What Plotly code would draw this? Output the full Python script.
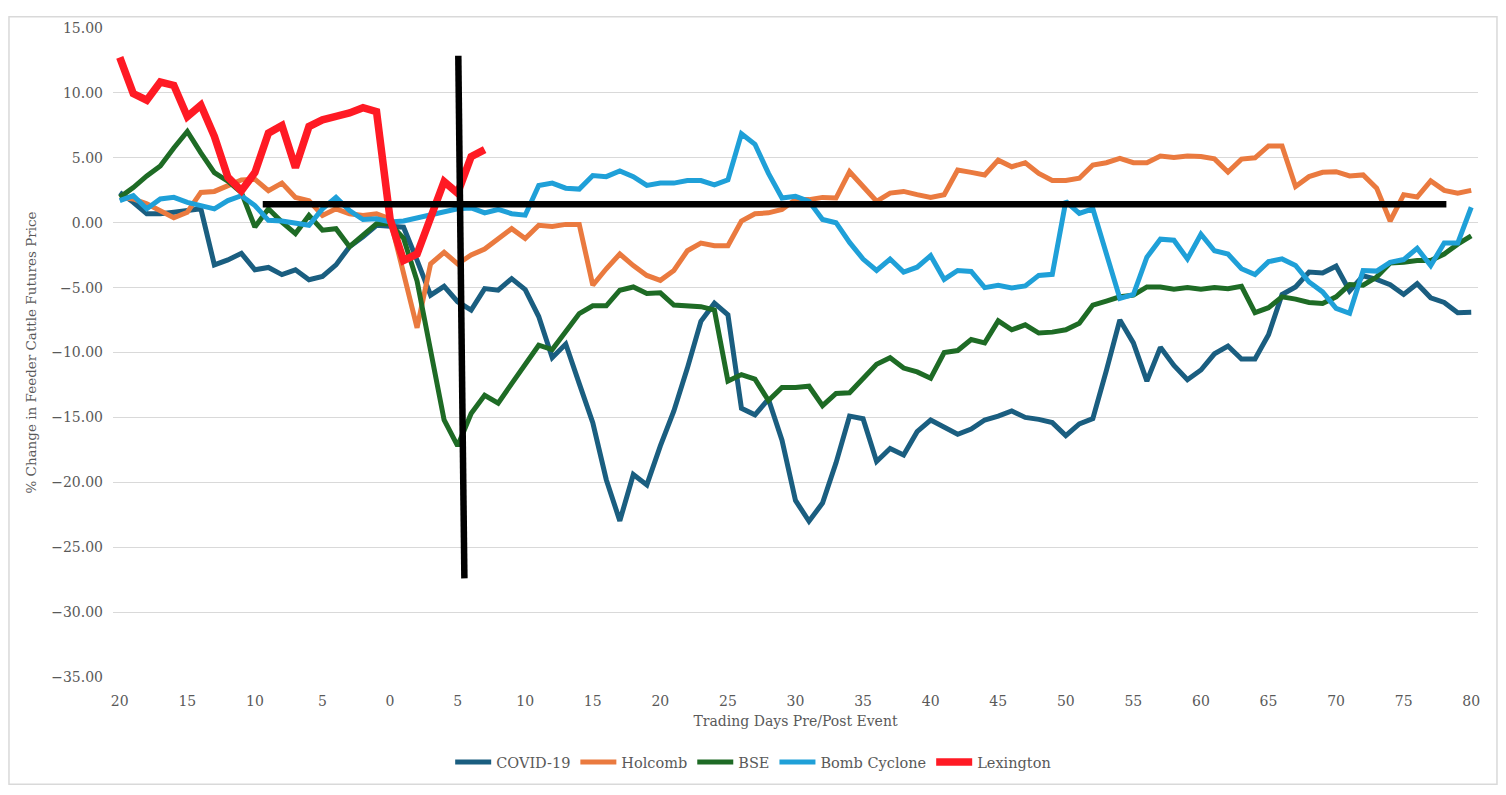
import plotly.graph_objects as go

# Trading days relative to the event (-20 .. 80)
days = list(range(-20, 81))

covid = [
    2.33, 1.57, 0.69, 0.69, 0.81, 0.94, 1.07, -3.25, -2.87, -2.36,
    -3.63, -3.45, -4.00, -3.63, -4.39, -4.14, -3.25, -1.85, -1.09, -0.20,
    -0.30, -0.35, -2.90, -5.58, -4.90, -6.09, -6.73, -5.08, -5.20, -4.31,
    -5.15, -7.23, -10.40, -9.35, -12.40, -15.40, -19.80, -22.97, -19.40, -20.20,
    -17.20, -14.50, -11.20, -7.60, -6.20, -7.10, -14.30, -14.80, -13.60, -16.75,
    -21.40, -23.00, -21.60, -18.50, -14.90, -15.10, -18.40, -17.40, -17.90, -16.10,
    -15.20, -15.80, -16.30, -15.90, -15.20, -14.90, -14.50, -15.00, -15.15, -15.40,
    -16.40, -15.50, -15.10, -11.40, -7.49, -9.26, -12.20, -9.60, -11.00, -12.10,
    -11.35, -10.10, -9.50, -10.50, -10.50, -8.63, -5.53, -4.95, -3.80, -3.88,
    -3.35, -5.25, -4.10, -4.37, -4.77, -5.53, -4.70, -5.79, -6.14, -6.93,
    -6.90,
]

holcomb = [
    1.95, 1.83, 1.45, 0.94, 0.38, 0.81, 2.33, 2.41, 2.84, 3.30,
    3.35, 2.46, 3.05, 1.95, 1.70, 0.56, 1.07, 0.69, 0.56, 0.69,
    0.30, -3.90, -8.10, -3.17, -2.28, -3.17, -2.49, -2.03, -1.27, -0.46,
    -1.22, -0.20, -0.30, -0.13, -0.13, -4.82, -3.55, -2.41, -3.30, -4.06,
    -4.44, -3.68, -2.16, -1.57, -1.78, -1.78, 0.13, 0.69, 0.76, 1.02,
    1.78, 1.78, 1.95, 1.90, 3.93, 2.79, 1.65, 2.28, 2.41, 2.16,
    1.95, 2.16, 4.06, 3.88, 3.68, 4.82, 4.31, 4.62, 3.80, 3.25,
    3.25, 3.43, 4.44, 4.62, 4.95, 4.62, 4.62, 5.13, 5.03, 5.13,
    5.10, 4.92, 3.90, 4.90, 5.00, 5.91, 5.91, 2.79, 3.55, 3.88,
    3.93, 3.60, 3.68, 2.66, 0.13, 2.16, 1.98, 3.22, 2.49, 2.28,
    2.49,
]

bse = [
    1.95, 2.70, 3.60, 4.37, 5.76, 7.03, 5.38, 3.86, 3.20, 2.33,
    -0.33, 1.07, 0.05, -0.84, 0.56, -0.58, -0.46, -1.85, -0.96, -0.08,
    -0.08, -1.20, -4.50, -10.00, -15.20, -17.20, -14.70, -13.30, -13.90, -12.40,
    -11.00, -9.44, -9.77, -8.40, -7.00, -6.40, -6.40, -5.20, -4.95, -5.46,
    -5.40, -6.35, -6.40, -6.47, -6.73, -12.20, -11.70, -12.05, -13.70, -12.70,
    -12.70, -12.60, -14.10, -13.15, -13.10, -12.05, -10.90, -10.40, -11.20, -11.50,
    -11.98, -10.00, -9.85, -9.00, -9.26, -7.56, -8.25, -7.87, -8.50, -8.43,
    -8.25, -7.74, -6.35, -6.04, -5.71, -5.58, -4.95, -4.95, -5.13, -5.00,
    -5.13, -5.00, -5.08, -4.90, -6.93, -6.55, -5.71, -5.89, -6.14, -6.22,
    -5.71, -4.77, -4.82, -4.19, -3.10, -3.05, -2.92, -2.92, -2.41, -1.65,
    -1.02,
]

bomb_cyclone = [
    1.70, 2.08, 1.07, 1.83, 1.95, 1.57, 1.32, 1.07, 1.70, 2.08,
    1.32, 0.18, 0.13, -0.08, -0.20, 1.07, 1.95, 0.94, 0.25, 0.30,
    0.05, 0.13, 0.38, 0.63, 0.81, 1.07, 1.14, 0.76, 1.02, 0.69,
    0.58, 2.87, 3.05, 2.66, 2.59, 3.63, 3.55, 3.98, 3.55, 2.87,
    3.05, 3.05, 3.25, 3.25, 2.92, 3.30, 6.85, 6.04, 3.80, 1.90,
    2.03, 1.65, 0.25, 0.00, -1.52, -2.80, -3.68, -2.80, -3.80, -3.43,
    -2.54, -4.37, -3.68, -3.76, -5.00, -4.82, -5.03, -4.87, -4.06, -3.98,
    1.65, 0.71, 1.07, -2.28, -5.84, -5.53, -2.66, -1.27, -1.35, -2.79,
    -0.89, -2.16, -2.41, -3.55, -4.00, -3.00, -2.79, -3.30, -4.57, -5.33,
    -6.60, -6.98, -3.68, -3.73, -3.05, -2.84, -1.98, -3.30, -1.57, -1.57,
    1.19,
]

# Lexington only runs to day 7
lexington = [
    12.74, 9.95, 9.44, 10.84, 10.58, 8.17, 9.06, 6.65, 3.50, 2.46,
    3.86, 6.90, 7.49, 4.24, 7.41, 7.92, 8.20, 8.45, 8.86, 8.55,
    0.30, -2.92, -2.41, 0.30, 3.17, 2.28, 5.08, 5.63,
]

# hand-drawn black reference lines
vline_x = [5.05, 5.5]
vline_y = [12.86, -27.4]
hline_x = [-9.42, 78.16]
hline_y = [1.42, 1.42]

tick_vals = list(range(-20, 81, 5))
tick_text = [str(abs(v)) for v in tick_vals]

FONT = "Georgia, 'DejaVu Serif', serif"
GREY = "#595959"

series = [
    ("COVID-19", covid, "#1a5e80", 5),
    ("Holcomb", holcomb, "#ea7a3f", 5),
    ("BSE", bse, "#1e6b25", 5),
    ("Bomb Cyclone", bomb_cyclone, "#1fa0d8", 5),
    ("Lexington", lexington, "#ff1a24", 7.5),
]

fig = go.Figure()
for name, vals, color, width in series:
    fig.add_trace(go.Scatter(
        x=days[:len(vals)], y=vals, mode="lines", name=name,
        line=dict(color=color, width=width),
    ))

fig.add_trace(go.Scatter(x=vline_x, y=vline_y, mode="lines", showlegend=False,
                         line=dict(color="black", width=6.5), hoverinfo="skip"))
fig.add_trace(go.Scatter(x=hline_x, y=hline_y, mode="lines", showlegend=False,
                         line=dict(color="black", width=6.5), hoverinfo="skip"))

# light chart border
fig.add_shape(type="rect", xref="paper", yref="paper",
              x0=-0.0762, x1=1.0139, y0=-0.1652, y1=1.0175,
              line=dict(color="#d9d9d9", width=1.5), layer="below")

# page body has an 8px margin, so the figure is a bit smaller than the window
fig.update_layout(
    width=1498, height=787,
    margin=dict(l=105, r=28, t=12, b=118),
    plot_bgcolor="white", paper_bgcolor="white",
    font=dict(family=FONT, color=GREY, size=14),
    legend=dict(orientation="h", x=0.469, xanchor="center", y=-0.131, yanchor="middle",
                font=dict(size=14.5, color=GREY), itemwidth=36),
)
fig.update_xaxes(
    range=[-20.5, 80.5], tickvals=tick_vals, ticktext=tick_text,
    showgrid=False, zeroline=False, showline=False, ticks="",
    ticklabelstandoff=14,
    title=dict(text="Trading Days Pre/Post Event", font=dict(size=14), standoff=8),
)
fig.update_yaxes(
    range=[-35, 15], dtick=5, tickformat=".2f",
    showgrid=True, gridcolor="#d9d9d9", gridwidth=1,
    zeroline=True, zerolinecolor="#d9d9d9", zerolinewidth=1,
    showline=False, ticks="", ticklabelstandoff=9,
    title=dict(text="% Change in Feeder Cattle Futures Price", font=dict(size=13.5), standoff=11),
)

fig.write_html("out.html")
